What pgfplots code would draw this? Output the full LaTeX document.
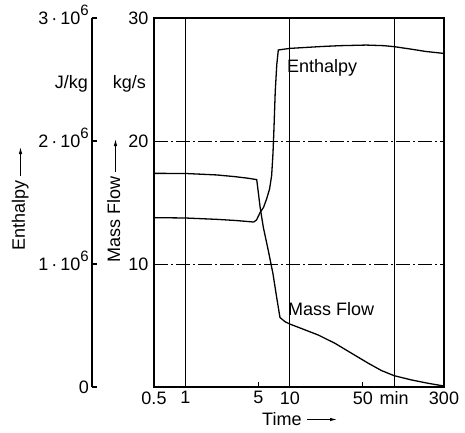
\documentclass[border=0pt]{standalone}
\usepackage{fontspec}
\setmainfont{Liberation Sans}
\usepackage{pgfplots}
\pgfplotsset{compat=1.18}
\usepackage{pgfplotstable}
\usetikzlibrary{arrows.meta}
\newcommand{\fs}{\fontsize{18}{21}\selectfont}
\newcommand{\sixp}{\smash{\raisebox{0.5em}{\fontsize{15}{15}\selectfont 6}}}

\pgfplotstableread{
t m
0.5 17.37
1 17.36
2 17.24
3 17.1
4 16.97
4.82 16.86
5.2 14.6
5.57 13.0
6.22 11.1
6.9 9.2
7.48 7.3
8.05 5.65
9 5.31
10 5.12
18.7 4.23
27.1 3.55
39.1 2.74
56.5 1.93
75.8 1.33
100 0.92
147 0.57
212 0.30
300 0.08
}\massflow

\pgfplotstableread{
t h
0.5 1377000
1 1374000
2 1363000
3 1354000
4.16 1344000
4.5 1341000
4.8 1358000
5.2 1420000
5.6 1460000
6.0 1530000
6.4 1610000
6.7 1720000
6.9 1900000
7.05 2100000
7.25 2400000
7.5 2620000
7.76 2740000
10 2753000
20 2768000
30 2775000
54 2780000
80 2775000
100 2767000
150 2745000
200 2728000
300 2712000
}\enthalpy

\begin{document}
\begin{tikzpicture}[font=\fs]
% Enthalpy axis
\begin{axis}[
  at={(-62pt,0pt)}, anchor=south west,
  scale only axis, width=20pt, height=369pt,
  xmin=0, xmax=1, ymin=0, ymax=3000000,
  axis x line=none, axis y line=left,
  y axis line style={-, line width=1.1pt},
  ytick={0,1000000,2000000,3000000},
  yticklabels={0, 1\,·\,10\sixp, 2\,·\,10\sixp, 3\,·\,10\sixp},
  scaled y ticks=false,
  /pgf/number format/assume math mode=true,
  tick align=inside, major tick length=5pt,
  tick style={line width=1.1pt, black},
  tick label style={font=\fs},
  yticklabel style={inner sep=3pt},
]
\end{axis}
% Main axis
\begin{axis}[
  at={(0pt,0pt)}, anchor=south west,
  scale only axis, width=290pt, height=369pt,
  xmode=log, xmin=0.5, xmax=300, ymin=0, ymax=30,
  xtick={0.5,1,5,10,50,100,300},
  xticklabels={0.5,1,5,10,50,min,300},
  minor xtick={},
  ytick={10,20,30}, yticklabels={10,20,30},
  /pgf/number format/assume math mode=true,
  tick pos=left, tick align=inside, major tick length=5pt,
  tick style={line width=1pt, black},
  axis line style={line width=1.1pt},
  tick label style={font=\fs},
  xticklabel style={yshift=-1pt},
  yticklabel style={xshift=-2pt},
  clip=false,
]
\draw[line width=0.9pt] (axis cs:1,0) -- (axis cs:1,30);
\draw[line width=0.9pt] (axis cs:10,0) -- (axis cs:10,30);
\draw[line width=0.9pt] (axis cs:100,0) -- (axis cs:100,30);
\draw[line width=0.7pt, dash pattern=on 14pt off 3pt on 2pt off 3pt] (axis cs:0.5,10) -- (axis cs:300,10);
\draw[line width=0.7pt, dash pattern=on 14pt off 3pt on 2pt off 3pt] (axis cs:0.5,20) -- (axis cs:300,20);
\addplot[black, line width=1.3pt] table[x=t, y=m] {\massflow};
\addplot[black, line width=1.3pt] table[x=t, y expr=\thisrow{h}/100000] {\enthalpy};
\node[anchor=base west, inner sep=0pt] at (axis cs:9.4,25.6) {Enthalpy};
\node[anchor=base west, inner sep=0pt] at (axis cs:9.6,5.85) {Mass Flow};
\end{axis}
% units
\node[anchor=base east, inner sep=0pt] at (-66pt,299pt) {J/kg};
\node[anchor=base east, inner sep=0pt] at (-8pt,299pt) {kg/s};
% rotated labels
\node[rotate=90, anchor=base west, inner sep=0pt] at (-129pt,136pt) {Enthalpy};
\draw[line width=0.9pt, -{Latex[length=7pt,width=3.5pt]}] (-133.5pt,211pt) -- (-133.5pt,240pt);
\node[rotate=90, anchor=base west, inner sep=0pt] at (-34pt,124pt) {Mass Flow};
\draw[line width=0.9pt, -{Latex[length=7pt,width=3.5pt]}] (-38.5pt,215pt) -- (-38.5pt,248pt);
% time label
\node[anchor=base west, inner sep=0pt] at (108pt,-38pt) {Time};
\draw[line width=0.9pt, -{Latex[length=7pt,width=3.5pt]}] (153pt,-32.5pt) -- (183pt,-32.5pt);
\pgfresetboundingbox
\path[use as bounding box] (-154pt,-45pt) rectangle (311pt,387pt);
\end{tikzpicture}
\end{document}
